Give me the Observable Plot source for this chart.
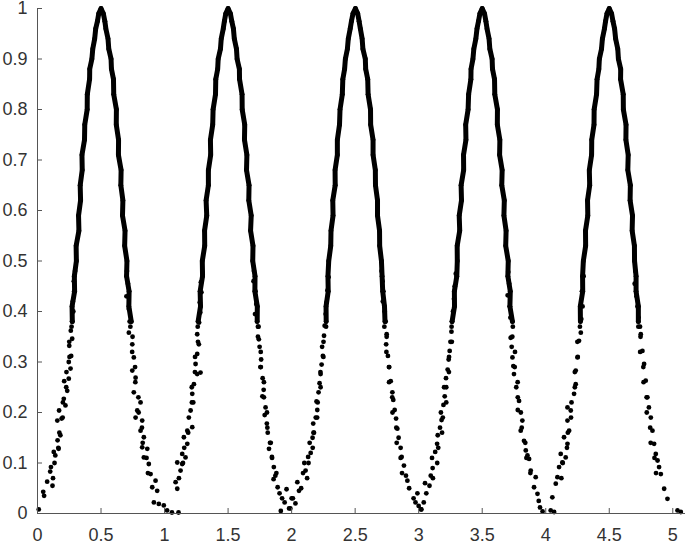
<!DOCTYPE html>
<html>
<head>
<meta charset="utf-8">
<script src="https://cdn.jsdelivr.net/npm/d3@7"></script>
<script src="https://cdn.jsdelivr.net/npm/@observablehq/plot@0.6"></script>
<style>
  html, body { margin: 0; padding: 0; background: #ffffff; }
  #chart { width: 685px; height: 546px; }
</style>
</head>
<body>
<div id="chart"></div>
<script>
// Tick values
const xTicks = [0, 0.5, 1, 1.5, 2, 2.5, 3, 3.5, 4, 4.5, 5];
const yTicks = [0, 0.1, 0.2, 0.3, 0.4, 0.5, 0.6, 0.7, 0.8, 0.9, 1];

// Dense upper band of each peak (y levels shared, x read per peak)
const bandY = [0.38,0.41,0.44,0.47,0.50,0.53,0.56,0.59,0.62,0.65,0.68,0.71,0.74,0.77,0.80,0.83,0.86,0.88,0.90,0.92,0.94,0.96,0.975,0.99,1,
               0.99,0.975,0.96,0.94,0.92,0.90,0.88,0.86,0.83,0.80,0.77,0.74,0.71,0.68,0.65,0.62,0.59,0.56,0.53,0.50,0.47,0.44,0.41,0.38];

const bandX1 = [0.274,0.272,0.292,0.290,0.306,0.304,0.326,0.323,0.339,0.336,0.352,0.350,0.370,0.372,0.391,0.392,0.410,0.411,0.428,0.435,0.450,0.458,0.472,0.482,0.500,
                0.518,0.530,0.538,0.555,0.561,0.579,0.582,0.598,0.600,0.621,0.620,0.638,0.637,0.658,0.656,0.672,0.669,0.689,0.686,0.704,0.701,0.721,0.719,0.738];
const bandX2 = [1.264,1.283,1.280,1.299,1.297,1.316,1.315,1.332,1.327,1.345,1.345,1.363,1.361,1.379,1.382,1.401,1.403,1.418,1.422,1.440,1.446,1.462,1.471,1.482,1.500,
                1.518,1.529,1.542,1.549,1.566,1.571,1.589,1.590,1.610,1.611,1.631,1.629,1.648,1.645,1.665,1.663,1.682,1.677,1.696,1.694,1.712,1.711,1.730,1.729];
const bandX3 = [2.272,2.271,2.288,2.286,2.292,2.308,2.310,2.326,2.324,2.343,2.342,2.360,2.360,2.377,2.381,2.399,2.403,2.417,2.423,2.439,2.446,2.461,2.471,2.483,2.502,
                2.520,2.531,2.541,2.555,2.561,2.580,2.583,2.599,2.602,2.621,2.622,2.641,2.641,2.659,2.660,2.676,2.676,2.692,2.693,2.707,2.712,2.717,2.731,2.735];
const bandX4 = [3.263,3.282,3.281,3.300,3.304,3.303,3.323,3.319,3.337,3.334,3.354,3.353,3.372,3.370,3.389,3.393,3.411,3.412,3.427,3.434,3.450,3.459,3.471,3.482,3.500,
                3.518,3.529,3.538,3.554,3.560,3.578,3.581,3.597,3.599,3.620,3.619,3.639,3.637,3.657,3.654,3.674,3.671,3.688,3.685,3.705,3.702,3.721,3.718,3.738];
const bandX5 = [4.273,4.272,4.291,4.290,4.296,4.314,4.313,4.331,4.329,4.346,4.343,4.361,4.362,4.380,4.381,4.400,4.404,4.418,4.422,4.439,4.446,4.462,4.471,4.482,4.500,
                4.518,4.529,4.542,4.550,4.567,4.572,4.590,4.589,4.610,4.611,4.632,4.631,4.649,4.646,4.666,4.664,4.683,4.680,4.698,4.699,4.711,4.711,4.729,4.729];

// Sparse lower points of each peak (left flank then right flank)
const lowX1 = [0.010,0.045,0.052,0.076,0.100,0.118,0.106,0.140,0.128,0.166,0.158,0.180,0.156,0.190,0.170,0.220,0.207,0.234,0.210,0.246,0.260,0.246,0.265,0.250,0.273,0.262,0.272,0.282,0.278,0.289,0.286,0.296,
               0.704,0.712,0.700,0.719,0.725,0.719,0.746,0.758,0.746,0.772,0.758,0.811,0.785,0.772,0.824,0.811,0.837,0.824,0.864,0.837,0.876,0.890,0.929,0.903,0.942,0.916,0.955,0.994,1.020,1.058,1.110];
const lowY1 = [0.008,0.043,0.035,0.063,0.083,0.055,0.092,0.115,0.122,0.128,0.145,0.155,0.184,0.188,0.204,0.214,0.227,0.243,0.262,0.267,0.287,0.300,0.312,0.332,0.346,0.362,0.380,0.400,0.420,0.440,0.460,0.480,
               0.480,0.455,0.430,0.405,0.380,0.358,0.335,0.309,0.283,0.269,0.240,0.220,0.204,0.190,0.184,0.164,0.151,0.131,0.128,0.111,0.098,0.078,0.065,0.052,0.045,0.022,0.019,0.016,0.006,0.002,0.002];

const lowX2 = [1.100,1.087,1.126,1.100,1.139,1.139,1.165,1.179,1.152,1.179,1.218,1.205,1.226,1.218,1.231,1.257,1.283,1.244,1.257,1.270,1.257,1.272,1.281,1.277,1.290,1.286,1.298,
               1.704,1.700,1.716,1.722,1.712,1.735,1.742,1.748,1.760,1.754,1.772,1.780,1.770,1.795,1.788,1.805,1.812,1.830,1.822,1.845,1.860,1.872,1.858,1.890,1.905,1.925,1.945,1.960,1.980,2.000,1.915];
const lowY2 = [0.049,0.062,0.085,0.101,0.098,0.118,0.111,0.138,0.151,0.164,0.171,0.204,0.220,0.237,0.256,0.276,0.279,0.296,0.316,0.335,0.355,0.378,0.398,0.418,0.438,0.458,0.478,
               0.480,0.460,0.440,0.415,0.395,0.370,0.345,0.330,0.305,0.290,0.268,0.245,0.232,0.210,0.195,0.178,0.160,0.140,0.128,0.112,0.092,0.075,0.068,0.052,0.040,0.030,0.022,0.048,0.010,0.030,0.005];

const lowX3 = [1.990,2.010,2.030,2.058,2.045,2.075,2.090,2.110,2.100,2.130,2.150,2.142,2.165,2.176,2.170,2.190,2.202,2.196,2.212,2.220,2.228,2.236,2.246,2.240,2.255,2.260,2.268,2.275,2.282,2.290,
               2.708,2.715,2.722,2.718,2.732,2.740,2.748,2.744,2.758,2.766,2.780,2.793,2.800,2.811,2.822,2.832,2.842,2.858,2.866,2.884,2.900,2.911,2.925,2.960,2.975,3.000,3.020,2.990];
const lowY3 = [0.010,0.030,0.020,0.045,0.062,0.050,0.080,0.085,0.100,0.112,0.120,0.140,0.150,0.160,0.178,0.190,0.205,0.222,0.240,0.258,0.276,0.295,0.312,0.330,0.352,0.372,0.395,0.418,0.442,0.468,
               0.480,0.460,0.440,0.420,0.400,0.380,0.355,0.335,0.312,0.290,0.262,0.240,0.225,0.205,0.188,0.168,0.150,0.130,0.112,0.095,0.075,0.065,0.050,0.030,0.022,0.015,0.008,0.040];

const lowX4 = [3.020,3.040,3.060,3.050,3.085,3.095,3.110,3.105,3.130,3.145,3.150,3.168,3.180,3.175,3.195,3.205,3.200,3.215,3.228,3.236,3.244,3.250,3.258,3.262,3.270,3.278,3.284,3.292,
               3.705,3.712,3.700,3.718,3.722,3.724,3.732,3.738,3.745,3.750,3.768,3.790,3.780,3.816,3.803,3.829,3.843,3.856,3.869,3.882,3.921,3.908,3.935,3.955,3.945,3.975];
const lowY4 = [0.008,0.022,0.040,0.060,0.055,0.075,0.090,0.110,0.122,0.138,0.155,0.170,0.185,0.200,0.215,0.232,0.250,0.268,0.285,0.305,0.322,0.340,0.360,0.380,0.400,0.425,0.450,0.475,
               0.478,0.455,0.432,0.410,0.388,0.348,0.330,0.309,0.292,0.276,0.250,0.223,0.205,0.184,0.164,0.144,0.125,0.115,0.108,0.085,0.072,0.052,0.039,0.012,0.025,0.004];

const lowX5 = [4.039,4.066,4.052,4.079,4.092,4.105,4.131,4.157,4.118,4.171,4.144,4.184,4.171,4.197,4.171,4.223,4.236,4.236,4.250,4.262,4.276,4.280,4.290,4.285,4.298,
               4.705,4.700,4.715,4.722,4.730,4.742,4.748,4.761,4.774,4.787,4.800,4.812,4.827,4.840,4.853,4.866,4.880,4.892,4.906,4.932,4.958,5.037,5.063];
const lowY5 = [0.006,0.003,0.032,0.059,0.072,0.092,0.101,0.111,0.118,0.138,0.151,0.164,0.184,0.204,0.210,0.237,0.256,0.283,0.309,0.342,0.358,0.385,0.410,0.440,0.470,
               0.480,0.455,0.430,0.410,0.388,0.370,0.355,0.322,0.296,0.263,0.230,0.210,0.190,0.164,0.138,0.118,0.105,0.092,0.078,0.049,0.029,0.006,0.003];

// Extra mid-flank points (y levels shared, x read per peak: left flank then right flank)
const extraY = [0.37,0.34,0.31,0.28,0.25,0.22,0.19,0.16,0.13,0.10,0.07,
                0.37,0.35,0.32,0.29,0.26,0.23,0.20,0.17,0.14,0.11,0.08];
const extraX1 = [0.268,0.250,0.252,0.228,0.226,0.200,0.198,0.172,0.164,0.134,0.122,
                 0.731,0.748,0.745,0.768,0.770,0.794,0.796,0.822,0.828,0.858,0.869];
const extraX2 = [1.261,1.263,1.240,1.239,1.214,1.215,1.191,1.186,1.155,1.145,1.113,
                 1.740,1.735,1.757,1.758,1.782,1.782,1.806,1.809,1.836,1.846,1.880];
const extraX3 = [2.271,2.251,2.250,2.227,2.228,2.205,2.201,2.172,2.166,2.133,2.122,
                 2.730,2.748,2.746,2.768,2.767,2.792,2.794,2.824,2.827,2.858,2.869];
const extraX4 = [3.259,3.261,3.239,3.238,3.217,3.217,3.190,3.184,3.154,3.146,3.112,
                 3.741,3.737,3.758,3.756,3.779,3.780,3.804,3.811,3.839,3.848,3.879];
const extraX5 = [4.269,4.249,4.252,4.229,4.229,4.203,4.199,4.174,4.167,4.134,4.123,
                 4.729,4.746,4.743,4.768,4.770,4.794,4.795,4.822,4.826,4.856,4.868];

// Build tables
const bandXs = [bandX1, bandX2, bandX3, bandX4, bandX5];
const lowXs = [lowX1, lowX2, lowX3, lowX4, lowX5];
const lowYs = [lowY1, lowY2, lowY3, lowY4, lowY5];
const extraXs = [extraX1, extraX2, extraX3, extraX4, extraX5];

const band = [];
bandXs.forEach((xs, k) => xs.forEach((x, i) => band.push({x, y: bandY[i], lobe: k})));
const low = [];
lowXs.forEach((xs, k) => xs.forEach((x, i) => low.push({x, y: lowYs[k][i], lobe: k})));
extraXs.forEach((xs, k) => xs.forEach((x, i) => low.push({x, y: extraY[i], lobe: k})));
const points = band.concat(low);

const axisColor = "#555555";
const textColor = "#333333";
const W = 685, H = 546, mL = 37, mR = 0, mT = 8, mB = 33;
const tickLen = 5;

const chart = Plot.plot({
  width: W,
  height: H,
  marginLeft: mL,
  marginRight: mR,
  marginTop: mT,
  marginBottom: mB,
  x: {domain: [0, 5.1]},
  y: {domain: [0, 1]},
  style: {
    fontFamily: "'Liberation Sans', Arial, Helvetica, sans-serif",
    fontSize: "18px",
    color: textColor,
    background: "#ffffff"
  },
  marks: [
    Plot.line(band, {x: "x", y: "y", z: "lobe", stroke: "#000000", strokeWidth: 5,
                     strokeLinejoin: "round", strokeLinecap: "round", curve: "linear"}),
    Plot.dot(points, {x: "x", y: "y", r: 2.4, fill: "#000000", stroke: "none"}),
    Plot.ruleX([0], {stroke: axisColor, strokeWidth: 1}),
    Plot.ruleY([0], {stroke: axisColor, strokeWidth: 1}),
    // inward ticks
    Plot.ruleX(xTicks, {stroke: axisColor, strokeWidth: 1, insetTop: H - mT - mB - tickLen}),
    Plot.ruleY(yTicks, {stroke: axisColor, strokeWidth: 1, insetRight: W - mL - mR - tickLen}),
    Plot.axisX(xTicks, {tickSize: 0, tickPadding: 15, fill: textColor, label: null,
                        tickFormat: d => String(d), fontSize: 18}),
    Plot.axisY(yTicks, {tickSize: 0, tickPadding: 10, fill: textColor, label: null,
                        tickFormat: d => String(d), fontSize: 18})
  ]
});

document.getElementById("chart").appendChild(chart);
</script>
</body>
</html>
